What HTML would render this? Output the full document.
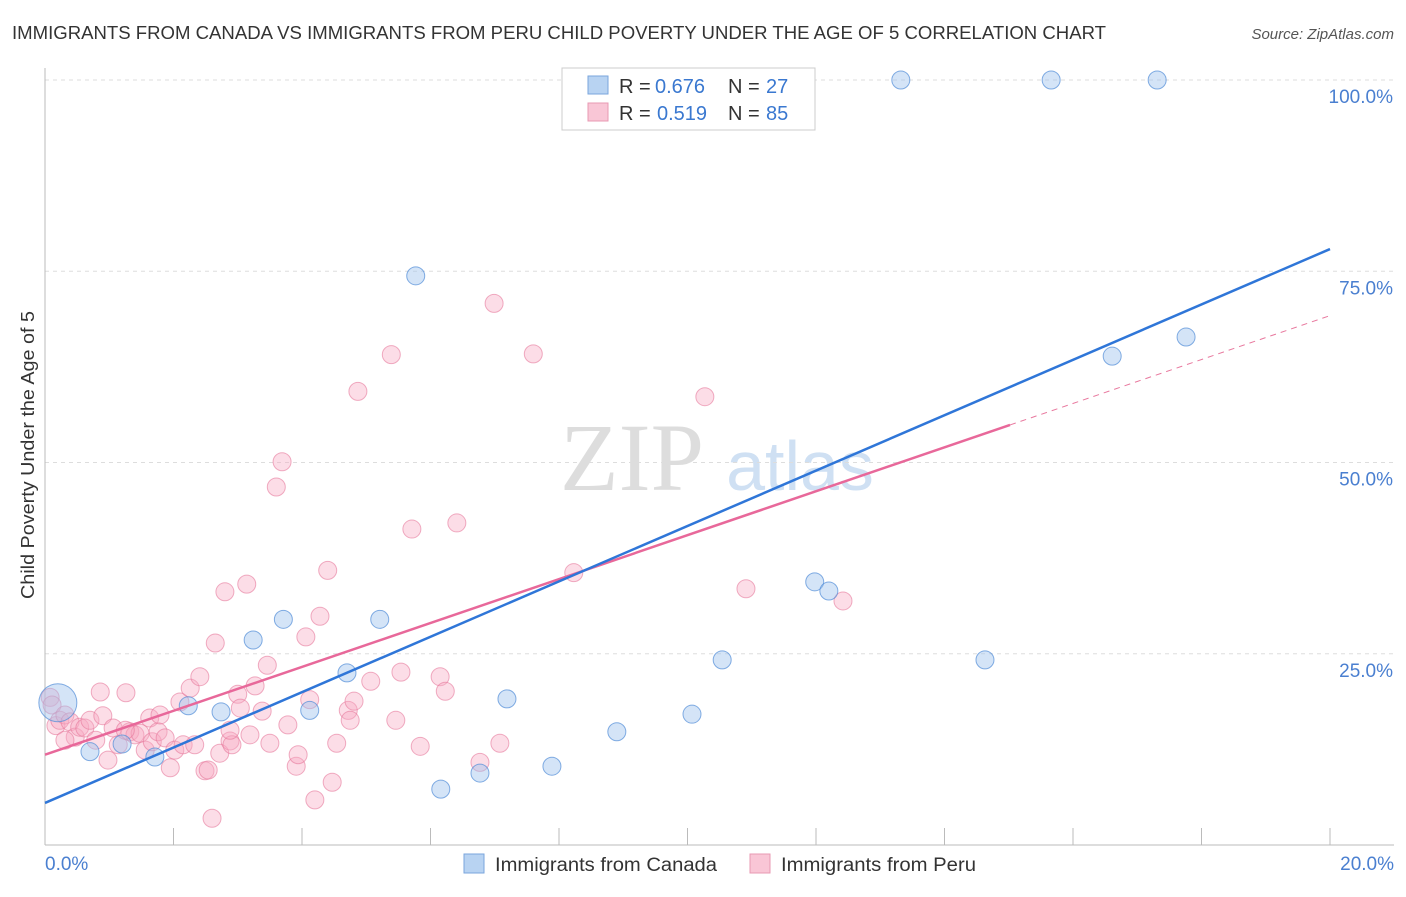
<!DOCTYPE html>
<html><head><meta charset="utf-8"><style>
body{margin:0;background:#fff;font-family:"Liberation Sans",sans-serif;}
</style></head><body>
<svg id="chart" width="1406" height="892" xmlns="http://www.w3.org/2000/svg">
<text x="12" y="39" font-size="18" fill="#333" textLength="1094" lengthAdjust="spacingAndGlyphs">IMMIGRANTS FROM CANADA VS IMMIGRANTS FROM PERU CHILD POVERTY UNDER THE AGE OF 5 CORRELATION CHART</text>
<text x="1394" y="39" font-size="15" fill="#555" font-style="italic" text-anchor="end">Source: ZipAtlas.com</text>
<text x="632" y="490" font-size="96" fill="#ddd" font-family="Liberation Serif" text-anchor="middle">ZIP</text>
<text x="800" y="490" font-size="70" fill="#cfe0f3" text-anchor="middle">atlas</text>
<g id="grid"></g><g id="marks"></g><g id="lines"></g>
<text transform="translate(34,455) rotate(-90)" font-size="18" fill="#333" text-anchor="middle" textLength="288" lengthAdjust="spacingAndGlyphs">Child Poverty Under the Age of 5</text>
<text x="45" y="870" font-size="19" fill="#4a7fd0">0.0%</text>
<text x="1394" y="870" font-size="19" fill="#4a7fd0" text-anchor="end">20.0%</text>
<g>
<rect x="562" y="68" width="253" height="62" fill="#fff" stroke="#ccc"/>
<rect x="588" y="76" width="20" height="18" fill="#b8d3f2" stroke="#7aa6dc"/>
<rect x="588" y="103" width="20" height="18" fill="#f9c6d6" stroke="#e899b3"/>
<text y="93" font-size="20" fill="#333"><tspan x="619">R =</tspan><tspan x="655" fill="#3a78d0">0.676</tspan><tspan x="728">N =</tspan><tspan x="766" fill="#3a78d0">27</tspan></text>
<text y="120" font-size="20" fill="#333"><tspan x="619">R =</tspan><tspan x="657" fill="#3a78d0">0.519</tspan><tspan x="728">N =</tspan><tspan x="766" fill="#3a78d0">85</tspan></text>
</g>
<g>
<rect x="464" y="854" width="20" height="19" fill="#b8d3f2" stroke="#7aa6dc"/>
<text x="495" y="871" font-size="19" fill="#333" textLength="222" lengthAdjust="spacingAndGlyphs">Immigrants from Canada</text>
<rect x="750" y="854" width="20" height="19" fill="#f9c6d6" stroke="#e899b3"/>
<text x="781" y="871" font-size="19" fill="#333" textLength="195" lengthAdjust="spacingAndGlyphs">Immigrants from Peru</text>
</g>
</svg>
<script>
const yTicks=[25,50,75,100];
const yTickLabels=["25.0%","50.0%","75.0%","100.0%"];
const xTicks=[0,2,4,6,8,10,12,14,16,18,20];
const canadaX=[0.2,0.7,1.2,1.71,2.23,2.74,3.24,3.71,4.12,4.7,5.21,5.77,6.16,6.77,7.19,7.89,8.9,10.07,10.54,11.98,12.2,13.32,14.63,15.66,16.61,17.31,17.76];
const canadaY=[18.6,12.2,13.2,11.5,18.2,17.4,26.8,29.5,17.6,22.5,29.5,74.4,7.3,9.4,19.1,10.3,14.8,17.1,24.2,34.4,33.2,100,24.2,100,63.9,100,66.4];
const peruX=[0.08,0.11,0.17,0.23,0.31,0.39,0.47,0.54,0.62,0.70,0.79,0.86,0.90,0.98,1.06,1.14,1.26,1.32,1.40,1.48,1.56,1.63,1.67,1.76,1.87,1.95,2.02,2.10,2.15,2.26,2.33,2.41,2.49,2.54,2.60,2.65,2.72,2.80,2.88,2.91,3.00,3.04,3.14,3.19,3.27,3.38,3.46,3.50,3.60,3.69,3.78,3.91,3.94,4.06,4.12,4.20,4.28,4.40,4.47,4.54,4.72,4.75,4.81,4.87,5.07,5.39,5.46,5.54,5.71,5.84,6.15,6.23,6.41,6.77,6.99,7.08,7.60,8.23,10.27,10.91,12.42,2.88,1.79,0.31,1.25];
const peruY=[19.3,18.3,15.6,16.3,17.0,16.1,14.1,15.4,15.3,16.3,13.7,20.0,16.9,11.1,15.3,13.1,19.9,14.8,14.4,14.6,12.4,16.6,13.5,14.8,14.0,10.1,12.4,18.7,13.1,20.5,13.1,22.0,9.7,9.8,3.5,26.4,12.0,33.1,13.6,13.1,19.7,17.9,34.1,14.4,20.8,17.5,23.5,13.3,46.8,50.1,15.7,10.3,11.8,27.2,19.0,5.9,29.9,35.9,8.2,13.3,17.6,16.3,18.8,59.3,21.4,64.1,16.3,22.6,41.3,12.9,22.0,20.1,42.1,10.8,70.8,13.3,64.2,35.6,58.6,33.5,31.9,15.0,17.0,13.7,15.0];
const canadaTrend=[5.5,77.9];
const peruTrend=[11.8,69.2];
const peruSolidEnd=15.02;
const NS='http://www.w3.org/2000/svg';
const xS=v=>45+v/20*1285;
const yS=v=>845-v/100*765;
function mk(tag,attrs,parent){const e=document.createElementNS(NS,tag);for(const k in attrs)e.setAttribute(k,attrs[k]);parent.appendChild(e);return e;}
const grid=document.getElementById('grid'),marks=document.getElementById('marks'),lines=document.getElementById('lines');
yTicks.forEach((t,i)=>{
 const l=mk('line',{x1:45,x2:1394,y1:yS(t),y2:yS(t),stroke:'#ddd','stroke-dasharray':'4,4'},grid);
 
 
 const tx=mk('text',{x:1393,y:yS(t)+23,'font-size':19,fill:'#4a7fd0','text-anchor':'end'},grid);
 tx.textContent=yTickLabels[i];
 
 
});
const ax=mk('line',{x1:45,x2:1394,y1:845,y2:845,stroke:'#bbb'},grid);


const ay=mk('line',{x1:45,x2:45,y1:68,y2:845,stroke:'#bbb'},grid);


xTicks.forEach(t=>{
 const l=mk('line',{x1:xS(t),x2:xS(t),y1:845,y2:828,stroke:'#bbb'},grid);
 
 
});
peruX.forEach((x,i)=>{
 const c=mk('circle',{cx:xS(x),cy:yS(peruY[i]),r:9,fill:'rgba(247,170,195,0.4)',stroke:'rgba(230,120,155,0.6)','stroke-width':1},marks);
 
 
});
canadaX.forEach((x,i)=>{
 const c=mk('circle',{cx:xS(x),cy:yS(canadaY[i]),r:i===0?19:9,fill:'rgba(160,195,238,0.45)',stroke:'rgba(80,140,215,0.7)','stroke-width':1},marks);
 
 
});
const pAt=x=>peruTrend[0]+(peruTrend[1]-peruTrend[0])*x/20;
const pd=mk('line',{x1:xS(peruSolidEnd),y1:yS(pAt(peruSolidEnd)),x2:xS(20),y2:yS(peruTrend[1]),stroke:'#e8789e','stroke-width':1,'stroke-dasharray':'6,5'},lines);


const ps=mk('line',{x1:xS(0),y1:yS(peruTrend[0]),x2:xS(peruSolidEnd),y2:yS(pAt(peruSolidEnd)),stroke:'#e8689a','stroke-width':2.5},lines);


const cl=mk('line',{x1:xS(0),y1:yS(canadaTrend[0]),x2:xS(20),y2:yS(canadaTrend[1]),stroke:'#2f76d8','stroke-width':2.5},lines);


</script>
</body></html>
